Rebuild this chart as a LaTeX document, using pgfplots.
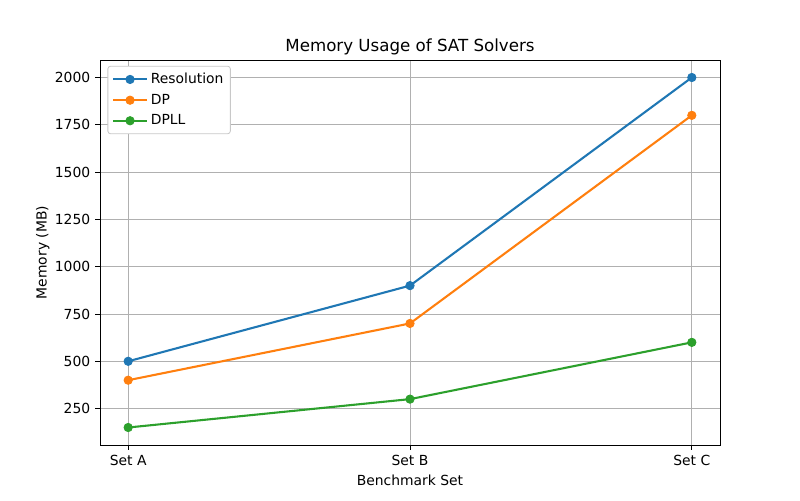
\documentclass[border=0pt]{standalone}
\usepackage{pgfplots}
\pgfplotsset{compat=1.18}
\usepackage{fontspec}
\setmainfont{DejaVu Sans}
\definecolor{tabblue}{HTML}{1F77B4}
\definecolor{taborange}{HTML}{FF7F0E}
\definecolor{tabgreen}{HTML}{2CA02C}
\definecolor{gridgray}{HTML}{B0B0B0}

\begin{document}
\begin{tikzpicture}
\fontsize{10}{12}\selectfont
% page = 800x500 px, 1px = 0.72pt
\useasboundingbox (-72pt,-39.6pt) rectangle (504pt,320.4pt);
\begin{axis}[
    at={(0,0)}, anchor=south west,
    scale only axis,
    width=446.4pt, height=277.2pt,
    xmin=-0.1, xmax=2.1,
    ymin=57.5, ymax=2092.5,
    xtick={0,1,2},
    xticklabels={Set A,Set B,Set C},
    ytick={250,500,750,1000,1250,1500,1750,2000},
    /pgf/number format/assume math mode=true,
    /pgf/number format/1000 sep={},
    tick label style={font=\fontsize{10}{12}\selectfont},
    tick align=outside,
    tick pos=left,
    major tick length=3.5pt,
    tick style={black, line width=0.6pt},
    axis line style={line width=0.6pt},
    grid=major,
    grid style={gridgray, line width=0.6pt},
    xlabel={Benchmark Set},
    ylabel={Memory (MB)},
    ylabel shift=-3pt,
    label style={font=\fontsize{10}{12}\selectfont},
    title={Memory Usage of SAT Solvers},
    title style={font=\fontsize{12}{14}\selectfont, yshift=-6pt},
    legend cell align=left,
    legend style={draw=gridgray!70, rounded corners=2pt, line width=0.6pt,
                  font=\fontsize{10}{12}\selectfont, at={(0.012,0.985)}, anchor=north west,
                  inner xsep=3pt, inner ysep=3pt, row sep=2pt},
    legend image code/.code={
        \draw[line width=1.5pt, mark repeat=2, mark phase=2] plot coordinates {(0cm,0cm) (0.43cm,0cm) (0.86cm,0cm)};
    },
    every axis plot/.append style={line width=1.5pt, mark=*, mark size=3pt},
]
\addplot[tabblue, mark options={fill=tabblue, line width=0.6pt}] coordinates {(0,500) (1,900) (2,2000)};
\addlegendentry{Resolution}
\addplot[taborange, mark options={fill=taborange, line width=0.6pt}] coordinates {(0,400) (1,700) (2,1800)};
\addlegendentry{DP}
\addplot[tabgreen, mark options={fill=tabgreen, line width=0.6pt}] coordinates {(0,150) (1,300) (2,600)};
\addlegendentry{DPLL}
\end{axis}
\end{tikzpicture}
\end{document}
